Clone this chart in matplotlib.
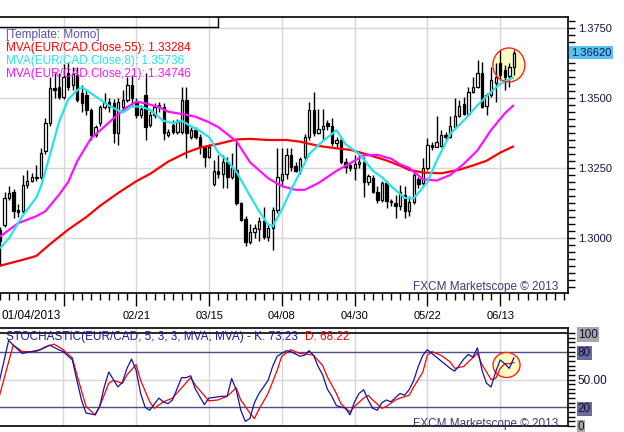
import numpy as np
import matplotlib
matplotlib.use("Agg")
import matplotlib.pyplot as plt
from matplotlib.patches import Ellipse
from matplotlib.transforms import blended_transform_factory
from matplotlib.lines import Line2D

plt.rcParams['font.family'] = ['Liberation Sans', 'DejaVu Sans']

# ---------------- data (EUR/CAD daily candles) ----------------
opens = [1.3030,1.3047,1.3142,1.3163,1.3100,1.3098,1.3188,1.3205,1.3219,1.3219,
         1.3309,1.3410,1.3535,1.3541,1.3503,1.3588,1.3546,1.3582,1.3517,1.3511,
         1.3457,1.3368,1.3410,1.3467,1.3484,1.3481,1.3374,1.3469,1.3493,1.3547,
         1.3485,1.3440,1.3510,1.3404,1.3440,1.3469,1.3469,1.3368,1.3404,1.3380,
         1.3380,1.3493,1.3362,1.3386,1.3362,1.3326,1.3291,1.3192,1.3240,1.3228,
         1.3271,1.3219,1.3243,1.3124,1.3068,1.2987,1.3023,1.3031,1.3062,1.3005,
         1.3035,1.3100,1.3208,1.3228,1.3297,1.3257,1.3240,1.3291,1.3362,1.3457,
         1.3374,1.3388,1.3410,1.3400,1.3338,1.3350,1.3273,1.3261,1.3249,1.3263,
         1.3273,1.3201,1.3213,1.3166,1.3136,1.3196,1.3132,1.3124,1.3115,1.3154,
         1.3097,1.3130,1.3210,1.3195,1.3249,1.3332,1.3326,1.3329,1.3368,1.3362,
         1.3398,1.3436,1.3479,1.3443,1.3523,1.3541,1.3591,1.3472,1.3511,1.3553,
         1.3624,1.3600,1.3579,1.3612]
highs = [1.3039,1.3166,1.3186,1.3174,1.3120,1.3225,1.3243,1.3231,1.3261,1.3320,
         1.3430,1.3576,1.3590,1.3590,1.3620,1.3630,1.3610,1.3610,1.3545,1.3530,
         1.3465,1.3405,1.3475,1.3517,1.3500,1.3495,1.3500,1.3530,1.3576,1.3582,
         1.3500,1.3475,1.3588,1.3455,1.3481,1.3487,1.3481,1.3390,1.3420,1.3425,
         1.3541,1.3541,1.3395,1.3395,1.3370,1.3330,1.3335,1.3279,1.3297,1.3297,
         1.3291,1.3303,1.3344,1.3130,1.3078,1.3050,1.3050,1.3075,1.3112,1.3050,
         1.3112,1.3320,1.3320,1.3320,1.3320,1.3270,1.3291,1.3370,1.3487,1.3523,
         1.3460,1.3460,1.3420,1.3428,1.3360,1.3360,1.3285,1.3270,1.3297,1.3310,
         1.3290,1.3230,1.3225,1.3184,1.3205,1.3205,1.3140,1.3154,1.3190,1.3184,
         1.3150,1.3236,1.3219,1.3285,1.3356,1.3344,1.3436,1.3386,1.3380,1.3436,
         1.3499,1.3493,1.3505,1.3541,1.3576,1.3636,1.3630,1.3517,1.3612,1.3624,
         1.3672,1.3618,1.3624,1.3672]
lows = [1.2900,1.3041,1.3136,1.3071,1.3076,1.3090,1.3180,1.3200,1.3205,1.3210,
        1.3300,1.3400,1.3500,1.3496,1.3496,1.3530,1.3530,1.3485,1.3451,1.3440,
        1.3350,1.3360,1.3400,1.3460,1.3450,1.3338,1.3332,1.3455,1.3485,1.3470,
        1.3428,1.3430,1.3350,1.3395,1.3430,1.3450,1.3350,1.3360,1.3370,1.3370,
        1.3370,1.3285,1.3355,1.3355,1.3300,1.3255,1.3285,1.3184,1.3215,1.3178,
        1.3178,1.3210,1.3118,1.3060,1.2970,1.2980,1.3000,1.2990,1.2995,1.2990,
        1.2958,1.3090,1.3190,1.3210,1.3240,1.3235,1.3230,1.3280,1.3350,1.3365,
        1.3370,1.3350,1.3385,1.3330,1.3320,1.3265,1.3231,1.3240,1.3207,1.3250,
        1.3148,1.3190,1.3160,1.3125,1.3130,1.3106,1.3115,1.3071,1.3100,1.3071,
        1.3080,1.3120,1.3178,1.3183,1.3243,1.3314,1.3324,1.3326,1.3350,1.3356,
        1.3392,1.3431,1.3439,1.3439,1.3517,1.3535,1.3463,1.3439,1.3505,1.3487,
        1.3564,1.3529,1.3541,1.3582]
closes = [1.2990,1.3142,1.3162,1.3098,1.3094,1.3190,1.3205,1.3217,1.3216,1.3305,
          1.3410,1.3535,1.3530,1.3503,1.3575,1.3541,1.3586,1.3493,1.3481,1.3457,
          1.3368,1.3398,1.3469,1.3481,1.3469,1.3374,1.3487,1.3493,1.3547,1.3499,
          1.3440,1.3460,1.3398,1.3440,1.3469,1.3476,1.3374,1.3380,1.3380,1.3416,
          1.3493,1.3374,1.3386,1.3362,1.3326,1.3291,1.3326,1.3240,1.3228,1.3271,
          1.3219,1.3251,1.3124,1.3065,1.2987,1.3023,1.3037,1.3062,1.3005,1.3035,
          1.3100,1.3219,1.3228,1.3297,1.3255,1.3240,1.3281,1.3362,1.3457,1.3374,
          1.3388,1.3400,1.3400,1.3338,1.3350,1.3273,1.3255,1.3249,1.3263,1.3270,
          1.3201,1.3222,1.3166,1.3136,1.3196,1.3132,1.3127,1.3116,1.3166,1.3097,
          1.3130,1.3225,1.3193,1.3249,1.3332,1.3324,1.3342,1.3368,1.3362,1.3400,
          1.3436,1.3472,1.3443,1.3523,1.3541,1.3591,1.3467,1.3511,1.3564,1.3576,
          1.3582,1.3576,1.3612,1.3662]

# moving averages (candle index, value)
ma55_idx = [0,5,8,11,15,19,22,26,30,33,37,41,44,48,52,55,59,63,66,70,74,77,81,85,88,90,93,97,101,104,107,110,113]
ma55_val = [1.2901,1.2922,1.2936,1.2978,1.3030,1.3075,1.3115,1.3161,1.3203,1.3229,1.3273,1.3305,1.3323,1.3336,
            1.3352,1.3354,1.3350,1.3350,1.3344,1.3329,1.3320,1.3315,1.3297,1.3277,1.3258,1.3243,1.3234,1.3231,
            1.3244,1.3259,1.3276,1.3305,1.3328]
ma8_idx = [0,2,5,8,9,10,13,15,17,18,20,22,24,27,29,31,33,36,38,40,42,44,46,48,50,52,55,57,59,60,62,64,66,68,
           71,74,76,79,82,84,86,89,91,94,96,99,102,105,108,110,113]
ma8_val = [1.2963,1.3000,1.3080,1.3145,1.3184,1.3240,1.3415,1.3495,1.3528,1.3538,1.3517,1.3495,1.3472,1.3448,
           1.3470,1.3469,1.3458,1.3418,1.3410,1.3419,1.3399,1.3382,1.3360,1.3305,1.3275,1.3236,1.3150,1.3095,
           1.3047,1.3043,1.3102,1.3172,1.3235,1.3300,1.3346,1.3385,1.3335,1.3300,1.3240,1.3217,1.3185,1.3143,
           1.3142,1.3200,1.3275,1.3372,1.3420,1.3474,1.3522,1.3551,1.3574]
ma21_idx = [0,4,8,10,13,15,17,20,22,26,28,30,32,35,37,41,43,46,48,52,55,59,62,65,67,70,74,77,80,83,86,88,
            90,93,96,99,102,105,108,111,113]
ma21_val = [1.3005,1.3053,1.3078,1.3096,1.3155,1.3200,1.3275,1.3356,1.3384,1.3442,1.3468,1.3487,1.3481,1.3467,
            1.3451,1.3440,1.3433,1.3413,1.3396,1.3345,1.3270,1.3213,1.3185,1.3172,1.3172,1.3196,1.3240,1.3267,
            1.3295,1.3297,1.3283,1.3263,1.3250,1.3210,1.3205,1.3225,1.3265,1.3313,1.3386,1.3445,1.3475]

# stochastic %K and %D (candle index, value)
k_idx = [0,2,3,5,7,9,11,13,14,16,17,18,19,21,22,23,24,26,27,28,29,30,31,32,33,35,36,37,38,40,41,42,43,45,46,
         49,50,51,52,53,54,55,56,57,59,60,61,63,64,66,67,68,69,70,71,72,73,74,76,77,78,79,80,81,82,83,84,85,86,
         88,89,90,91,92,93,94,95,97,99,100,101,102,103,104,105,106,107,108,109,110,111,112,113]
k_val = [49,92,87,78,80,82,87,82,80,71,49,28,14,12,21,42,58,42,47,62,72,60,35,20,17,30,26,24,28,52,52,54,40,23,30,
         32,32,51,39,17,5,8,25,35,49,64,75,81,80,75,76,81,76,64,55,40,32,22,19,12,26,35,39,28,19,17,25,28,26,
         35,33,39,49,64,76,82,78,70,62,59,65,72,77,74,84,60,46,42,58,71,67,62,73.23]
d_idx = [0,3,5,8,10,12,14,16,17,19,21,22,24,25,27,28,30,31,33,34,36,37,38,40,42,43,46,48,50,52,53,55,56,57,59,
         61,62,64,66,68,69,71,72,74,75,77,78,80,81,82,84,85,87,88,90,91,93,94,95,97,99,100,102,103,105,106,108,
         109,110,111,112,113]
d_val = [33,87,80,80,85,88,82,73,55,21,12,21,46,49,46,55,66,49,26,19,26,28,30,41,52,44,27,28,32,41,28,14,8,18,35,
         60,75,82,78,77,76,65,53,35,24,15,21,30,33,28,19,21,28,30,33,42,58,76,80,76,69,62,64,69,78,66,50,
         51,62,67,67,68.22]

date_pos = [30, 46, 62, 78, 94, 110]
date_labels = ['02/21', '03/15', '04/08', '04/30', '05/22', '06/13']
first_date = '01/04/2013'
grid_pos = [14, 30, 46, 62, 78, 94, 110]
price_ticks = [1.3000, 1.3250, 1.3500, 1.3750]
last_price = 1.36620
stoch_ticks = [0, 20, 50, 80, 100]
stoch_tick_labels = ['0', '20', '50.00', '80', '100']

# ---------------- figure ----------------
W, H = 624, 432
fig = plt.figure(figsize=(W / 100, H / 100), dpi=100)
fig.patch.set_facecolor('white')

def fx(px):
    return px / W

def fy(py):
    return 1 - py / H

AX_R = 568
ax = fig.add_axes([0, fy(293), fx(AX_R), (293 - 17) / H])
ax2 = fig.add_axes([0, fy(426), fx(AX_R), (426 - 328) / H])

XL = (0.1, 124.9)
grid_c = '#d6d6d6'
navy_txt = '#15154a'

# ---- main panel ----
o = np.array(opens); h = np.array(highs); l = np.array(lows); c = np.array(closes)
x = np.arange(len(o))
ax.set_xlim(*XL)
ax.set_ylim(1.375 - (293 - 28) / 2800, 1.375 + (28 - 17) / 2800)
for g in grid_pos:
    ax.axvline(g, color=grid_c, lw=1, zorder=0)
for p in price_ticks:
    ax.axhline(p, color=grid_c, lw=1, zorder=0)

ell = Ellipse((111.9, 1.3618), 32 / 4.55, 34 / 2800, facecolor='#ffffc4', edgecolor='none', zorder=1)
ax.add_patch(ell)
ell2 = Ellipse((111.9, 1.3618), 32 / 4.55, 34 / 2800, facecolor='none', edgecolor='#ff2020', lw=1.0, zorder=6)
ax.add_patch(ell2)

ax.vlines(x, l, h, color='black', lw=1.0, zorder=2)
up = c >= o
body = np.maximum(np.abs(c - o), 0.00018)
bot = np.minimum(o, c)
ax.bar(x[up], body[up], bottom=bot[up], width=0.52, color='white', edgecolor='black', lw=0.9, zorder=3)
ax.bar(x[~up], body[~up], bottom=bot[~up], width=0.52, color='black', edgecolor='black', lw=0.9, zorder=3)

ax.plot(ma55_idx, ma55_val, color='#ff0000', lw=1.6, zorder=4, solid_capstyle='butt')
ax.plot(ma21_idx, ma21_val, color='#ff10ff', lw=1.6, zorder=4, solid_capstyle='butt')
ax.plot(ma8_idx, ma8_val, color='#22e4ea', lw=1.6, zorder=5, solid_capstyle='butt')

ax.yaxis.tick_right()
ax.set_yticks(price_ticks)
ax.set_yticklabels(['%.4f' % p for p in price_ticks])
ax.set_yticks(np.arange(1.2825, 1.3790, 0.0025), minor=True)
ax.tick_params(axis='y', which='both', direction='out', length=5, width=1, colors='black',
               labelcolor=navy_txt, labelsize=8, pad=2)
ax.set_xticks(grid_pos)
ax.set_xticklabels([])
ax.set_xticks(np.arange(0, 125, 2), minor=True)
ax.tick_params(axis='x', which='major', direction='out', length=9, width=1)
ax.tick_params(axis='x', which='minor', direction='out', length=5, width=1)
ax.spines['left'].set_visible(False)
for s in ['top', 'right', 'bottom']:
    ax.spines[s].set_linewidth(1.2)

btr = blended_transform_factory(ax.transAxes, ax.transData)
ax.text(1.0 + 3 / AX_R, last_price, '%.5f' % last_price, transform=btr, ha='left', va='center',
        fontsize=8, color=navy_txt,
        bbox=dict(facecolor='#55c4f2', edgecolor='none', pad=1.2), zorder=10, clip_on=False)

dtr = blended_transform_factory(ax.transData, fig.transFigure)
for pos, lab in zip(date_pos, date_labels):
    ax.text(pos, fy(316), lab, transform=dtr, ha='center', va='center', fontsize=8, color='black', clip_on=False)
fig.text(fx(1), fy(316), first_date, ha='left', va='center', fontsize=8.5, color='black')

fig.add_artist(Line2D([0, fx(218)], [fy(27), fy(27)], color='black', lw=1.0))
fig.add_artist(Line2D([fx(218), fx(218)], [fy(17), fy(27)], color='black', lw=1.0))

fig.text(fx(6), fy(35), '[Template: Momo]', color='#5a4fb0', fontsize=8.5, va='center')
fig.text(fx(6), fy(48), 'MVA(EUR/CAD.Close,55): 1.33284', color='#ff0000', fontsize=8.5, va='center')
fig.text(fx(6), fy(61), 'MVA(EUR/CAD.Close,8): 1.35736', color='#22e4ea', fontsize=8.5, va='center')
fig.text(fx(6), fy(74), 'MVA(EUR/CAD.Close,21): 1.34746', color='#ff10ff', fontsize=8.5, va='center')

fig.text(fx(413), fy(287), 'FXCM Marketscope \u00a9 2013', color='#3c3c78', fontsize=8.5, va='center')

# ---- stochastic panel ----
ax2.set_xlim(*XL)
ax2.set_ylim(0, (426 - 328) / 0.93)
for g in grid_pos:
    ax2.axvline(g, color=grid_c, lw=1, zorder=0)
ax2.axhline(50, color=grid_c, lw=1, zorder=0)
ax2.axhline(80, color='#505088', lw=1, zorder=1)
ax2.axhline(20, color='#505088', lw=1, zorder=1)
ax2.axhline(100, color='black', lw=1.2, zorder=1)

e3 = Ellipse((111.4, 65.6), 27 / 4.55, 25 / 0.93, facecolor='#ffffc4', edgecolor='#ff2020', lw=1.0, zorder=2)
ax2.add_patch(e3)

ax2.plot(d_idx, d_val, color='#ff0000', lw=0.9, zorder=3)
ax2.plot(k_idx, k_val, color='#1414a0', lw=0.9, zorder=4)

ax2.yaxis.tick_right()
ax2.set_yticks(stoch_ticks)
ax2.set_yticklabels(stoch_tick_labels)
ax2.set_yticks(np.arange(0, 105, 5), minor=True)
ax2.tick_params(axis='y', which='both', direction='out', length=5, width=1, labelsize=8.5,
                labelcolor='#101030', pad=2)
bgs = {'0': '#a8a8a8', '20': '#6a6a9c', '50.00': 'none', '80': '#6a6a9c', '100': '#a8a8a8'}
for lbl, t in zip(ax2.get_yticklabels(), stoch_tick_labels):
    if bgs[t] != 'none':
        lbl.set_bbox(dict(facecolor=bgs[t], edgecolor='none', pad=0.8))
ax2.set_xticks([])
ax2.spines['left'].set_visible(False)
for s in ['top', 'right', 'bottom']:
    ax2.spines[s].set_linewidth(1.2)

fig.text(fx(6), fy(337), 'STOCHASTIC(EUR/CAD, 5, 3, 3, MVA, MVA) - K: 73.23', color='#1c1ca0', fontsize=8.5, va='center')
fig.text(fx(305), fy(337), 'D: 68.22', color='#ff0000', fontsize=8.5, va='center')
fig.text(fx(413), fy(424), 'FXCM Marketscope \u00a9 2013', color='#3c3c78', fontsize=8.5, va='center')

fig.savefig('out.png', dpi=100)
